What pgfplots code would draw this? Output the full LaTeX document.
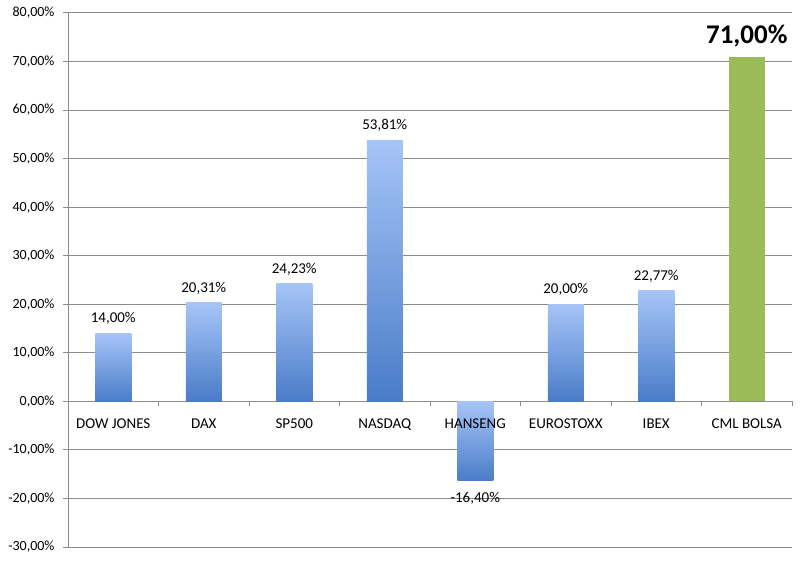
\documentclass[border=0pt]{standalone}
\usepackage{pgfplots}
\pgfplotsset{compat=1.18}
\usepackage{fontspec}
\setmainfont{Carlito}
\definecolor{barTop}{RGB}{166,196,247}
\definecolor{barBot}{RGB}{74,124,200}
\definecolor{cmlGreen}{RGB}{155,187,89}
\definecolor{gridGray}{RGB}{140,140,140}

\pgfplotsset{
    pct label/.style={
        nodes near coords={\pgfmathprintnumber[fixed,fixed zerofill,precision=2,use comma]{\pgfplotspointmeta}\%},
    },
    % one path per bar, so that each bar gets its own gradient
    blue bar/.style={draw=none, top color=barTop, bottom color=barBot, bar shift=0pt, pct label,
        every node near coord/.append style={font=\fontsize{15}{17}\selectfont, text=black, anchor=south, yshift=5pt}},
    blue bar neg/.style={draw=none, top color=barTop, bottom color=barBot, bar shift=0pt, pct label,
        every node near coord/.append style={font=\fontsize{15}{17}\selectfont, text=black, anchor=north, yshift=-8pt}},
}

\begin{document}
\begin{tikzpicture}
\begin{axis}[
    scale only axis,
    width=724pt, height=534pt,
    xmin=0.5, xmax=8.5,
    ymin=-30, ymax=80,
    set layers,
    axis x line=middle,
    axis y line=left,
    axis line style={-, draw=gridGray, line width=1pt},
    ybar, bar width=36pt,
    xtick={0.5,1.5,...,8.5},
    xticklabels={},
    extra x ticks={1,...,8},
    extra x tick labels={DOW JONES, DAX, SP500, NASDAQ, HANSENG, EUROSTOXX, IBEX, CML BOLSA},
    extra x tick style={tick style={draw=none}},
    major tick length=5pt,
    tick align=outside,
    tick style={gridGray, line width=1pt},
    ytick={-30,-20,...,80},
    ymajorgrids,
    grid style={gridGray, line width=1pt},
    /pgf/number format/assume math mode=true,
    yticklabel={\pgfmathprintnumber[fixed,fixed zerofill,precision=2,use comma]{\tick}\%},
    yticklabel style={font=\fontsize{14}{16}\selectfont, text=black, xshift=-5pt},
    xticklabel style={font=\fontsize{15}{17}\selectfont, text=black, yshift=-9pt,
        /pgfplots/on layer=axis foreground},
    clip=false,
]

\addplot[blue bar] coordinates {(1, 14.00)};
\addplot[blue bar] coordinates {(2, 20.31)};
\addplot[blue bar] coordinates {(3, 24.23)};
\addplot[blue bar] coordinates {(4, 53.81)};
\addplot[blue bar neg] coordinates {(5, -16.40)};
\addplot[blue bar] coordinates {(6, 20.00)};
\addplot[blue bar] coordinates {(7, 22.77)};

% CML BOLSA
\addplot[draw=none, fill=cmlGreen, bar shift=0pt, pct label,
    every node near coord/.append style={font=\bfseries\fontsize{27}{30}\selectfont, text=black, anchor=south, yshift=6pt},
    ] coordinates {(8, 71.00)};

\end{axis}
\path (current axis.south west) ++(-68pt,-13pt) rectangle ++(800pt,560pt);
\end{tikzpicture}
\end{document}
